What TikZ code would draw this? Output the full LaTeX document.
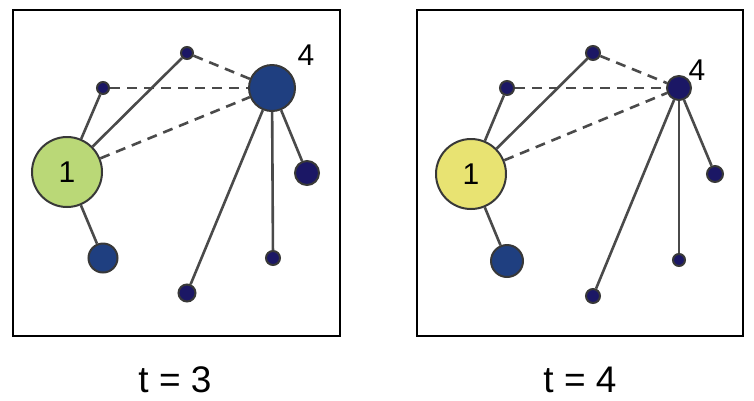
\documentclass[tikz,border=0pt]{standalone}
\usepackage{fontspec}
\setmainfont{Liberation Sans}
\begin{document}
\definecolor{nodegreen}{HTML}{BAD877}
\definecolor{nodeyellow}{HTML}{E8E372}
\definecolor{nodeblue}{HTML}{1F3F80}
\definecolor{nodenavy}{HTML}{1B1765}
\definecolor{edgegray}{HTML}{4A4A4A}
\definecolor{rimgray}{HTML}{383838}
\begin{tikzpicture}[x=1pt,y=-1pt,
  vtx/.style={circle,draw=rimgray,line width=2pt,inner sep=0pt,minimum size=#1},
  edge/.style={draw=edgegray,line width=2.6pt},
  dedge/.style={edge,dash pattern=on 10pt off 7pt},
  panel/.style={draw=black,line width=2pt},
  lbl/.style={font=\fontsize{30}{30}\selectfont,text=black,inner sep=0pt},
  onelbl/.style={font=\fontsize{30}{30}\selectfont,text=black,inner sep=0pt},
  captext/.style={font=\fontsize{37}{37}\selectfont,text=black,inner sep=0pt}]
\useasboundingbox (0,0) rectangle (754,400);
% left panel
\node[panel,minimum width=327pt,minimum height=326pt,inner sep=0pt] (boxA) at (176.5,173) {};
\node[vtx=70pt,fill=nodegreen] (a1) at (67,172) {};
\node[onelbl] (a1l) at (a1) {1};
\node[vtx=12pt,fill=nodenavy] (aT) at (187,53) {};
\node[vtx=12pt,fill=nodenavy] (aL) at (103,88) {};
\node[vtx=46pt,fill=nodeblue] (a4) at (272,88) {};
\node[vtx=24pt,fill=nodenavy] (aR) at (307,173) {};
\node[vtx=29pt,fill=nodeblue] (aB) at (103,258) {};
\node[vtx=14pt,fill=nodenavy] (aM) at (273,258) {};
\node[vtx=17pt,fill=nodenavy] (aD) at (187,293) {};
\node[lbl] (a4l) at (306,55) {4};
\path[edge] (a1) -- (aL);
\path[edge] (a1) -- (aT);
\path[edge] (a1) -- (aB);
\path[dedge] (a1) -- (a4);
\path[dedge] (aL) -- (a4);
\path[dedge] (aT) -- (a4);
\path[edge] (a4) -- (aR);
\path[edge] (a4) -- (aM);
\path[edge] (a4) -- (aD);
% right panel
\node[panel,minimum width=326pt,minimum height=326pt,inner sep=0pt] (boxB) at (580,173) {};
\node[vtx=70pt,fill=nodeyellow] (b1) at (471,174) {};
\node[onelbl] (b1l) at (b1) {1};
\node[vtx=14pt,fill=nodenavy] (bT) at (593,53) {};
\node[vtx=14pt,fill=nodenavy] (bL) at (507,88) {};
\node[vtx=24pt,fill=nodenavy] (b4) at (679,88) {};
\node[vtx=16pt,fill=nodenavy] (bR) at (715,174) {};
\node[vtx=32pt,fill=nodeblue] (bB) at (507,261) {};
\node[vtx=12pt,fill=nodenavy] (bM) at (679,260) {};
\node[vtx=14pt,fill=nodenavy] (bD) at (593,296) {};
\node[lbl] (b4l) at (697,70) {4};
\path[edge] (b1) -- (bL);
\path[edge] (b1) -- (bT);
\path[edge] (b1) -- (bB);
\path[dedge] (b1) -- (b4);
\path[dedge] (bL) -- (b4);
\path[dedge] (bT) -- (b4);
\path[edge] (b4) -- (bR);
\path[edge] (b4) -- (bM);
\path[edge] (b4) -- (bD);
% captions
\node[captext] (capA) at (175,380) {t = 3};
\node[captext] (capB) at (580,380) {t = 4};
\end{tikzpicture}
\end{document}
